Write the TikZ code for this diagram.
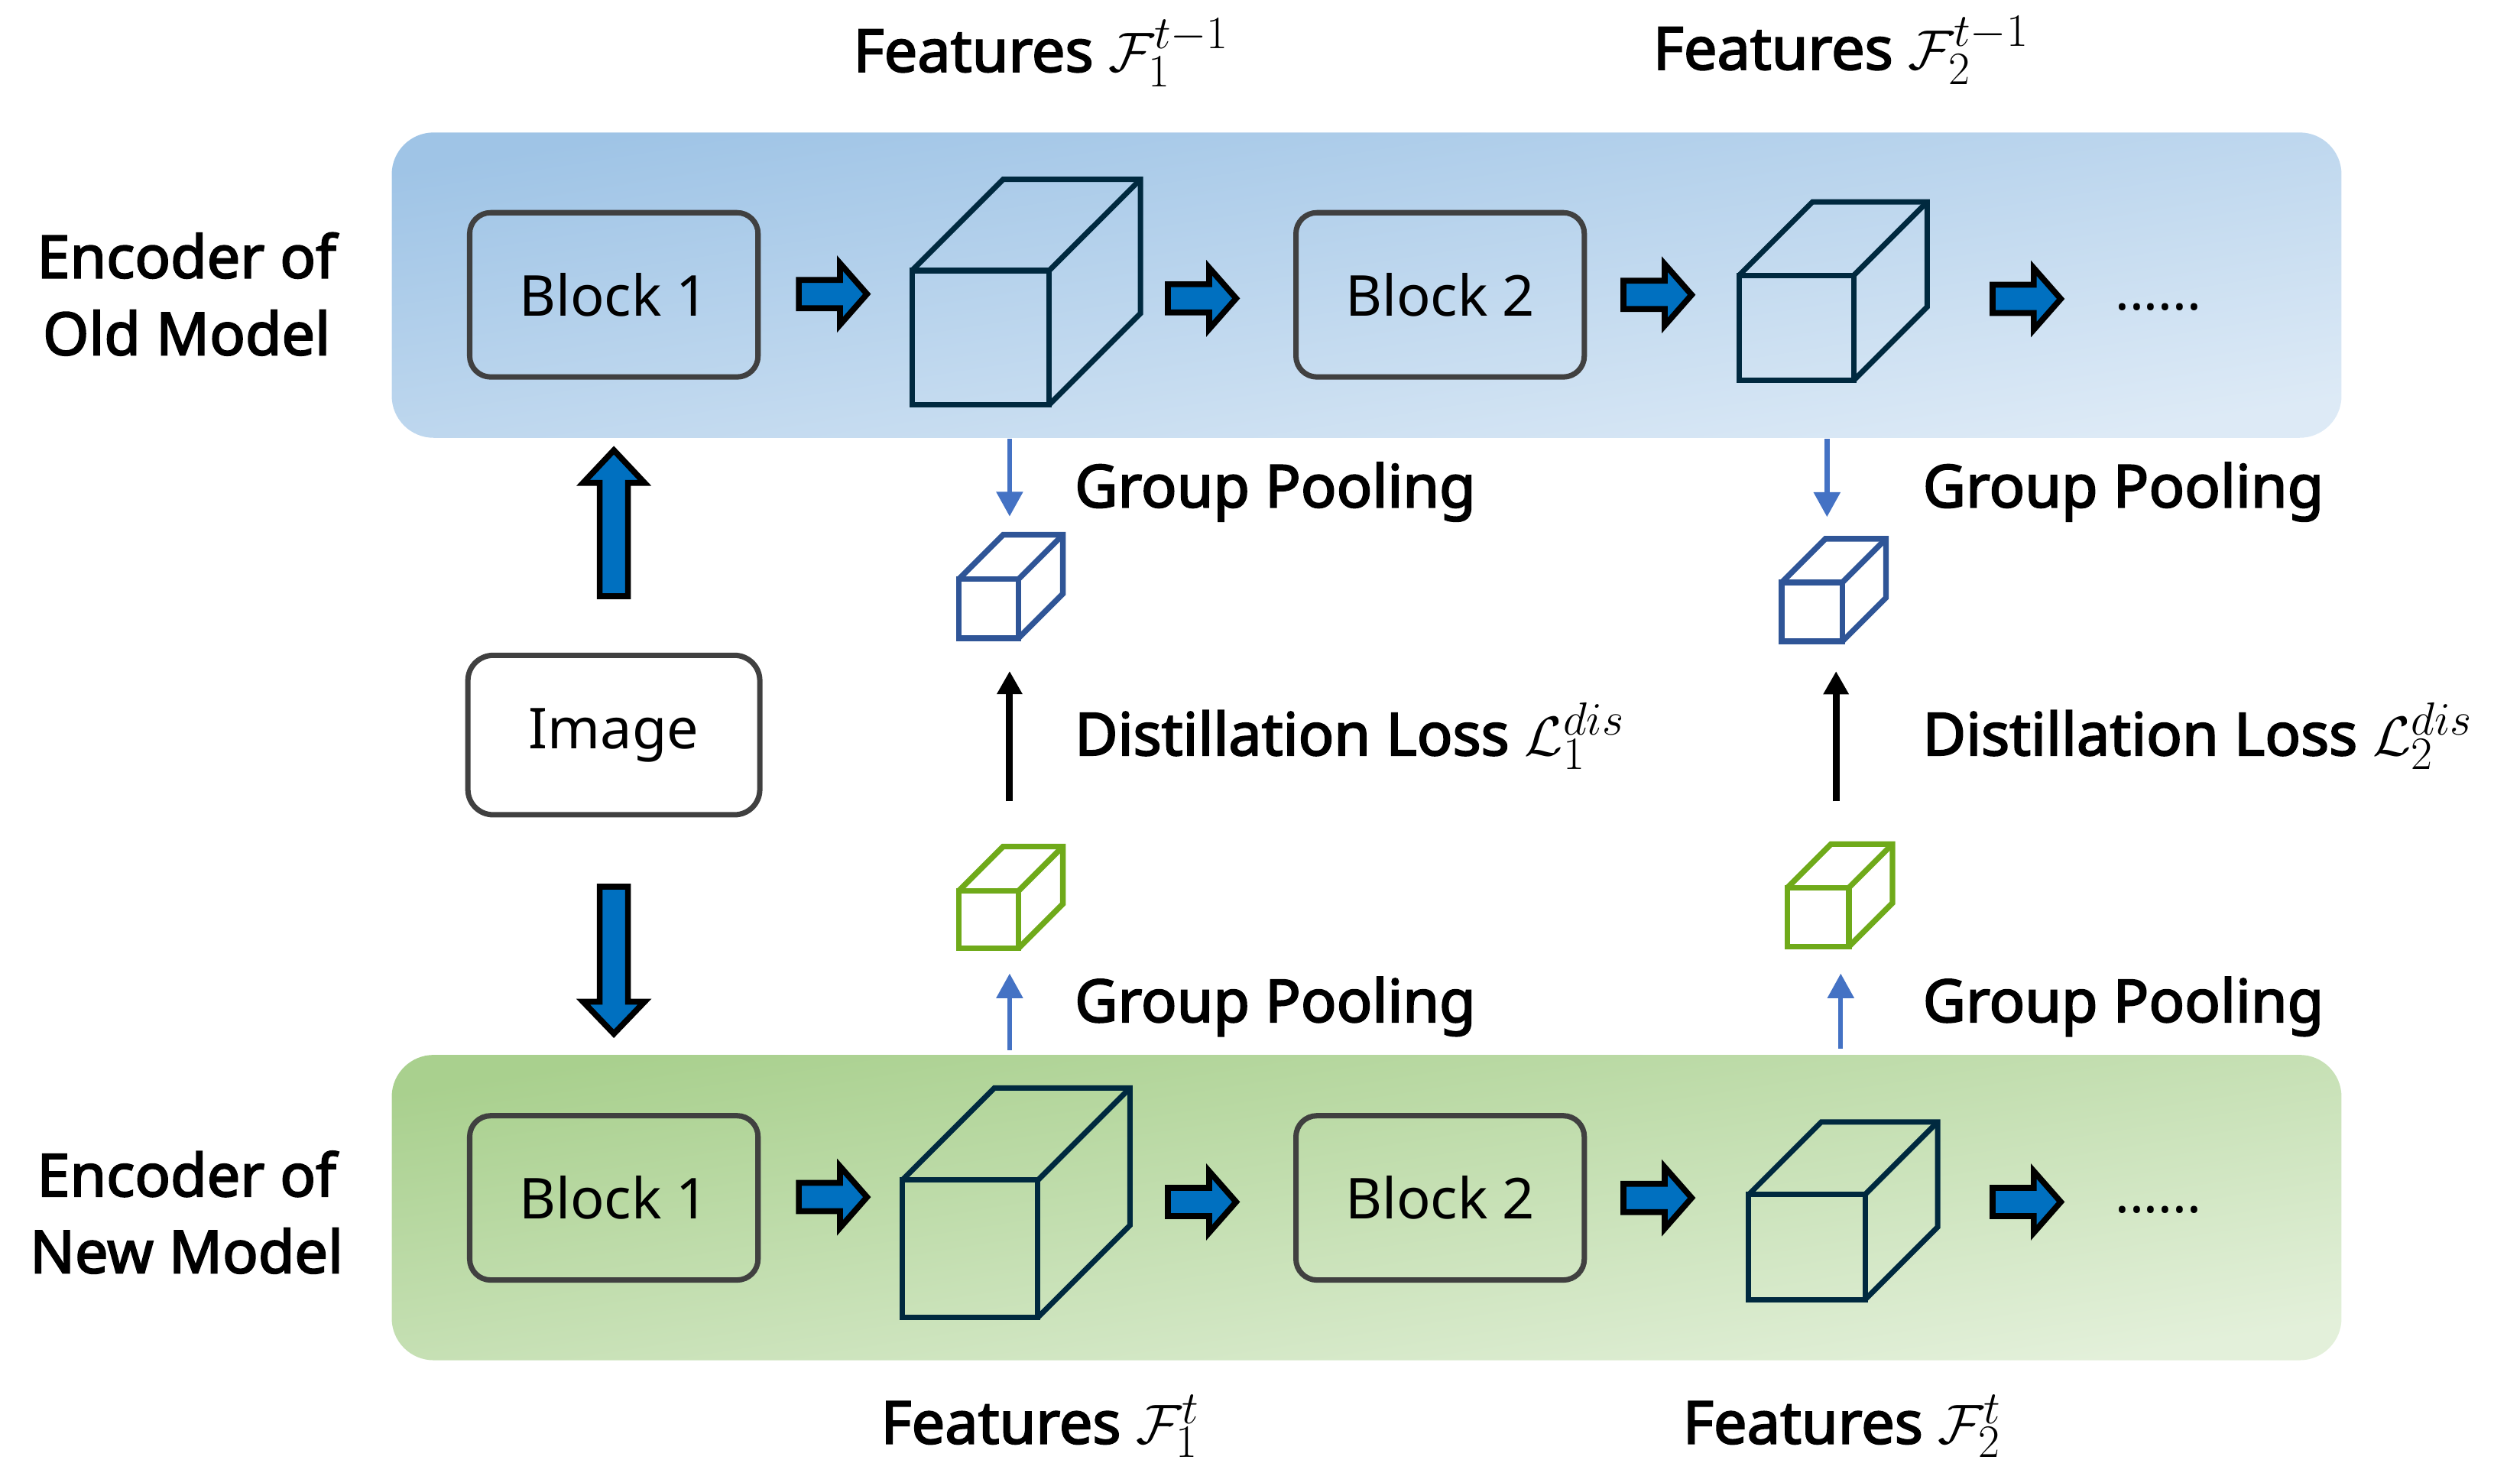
\documentclass[tikz,border=0pt]{standalone}
\usepackage{fontspec}
\setmainfont{Noto Sans}[AutoFakeBold=2.6]
\DeclareMathSizes{22}{22}{18}{13}
\usetikzlibrary{arrows.meta}
\definecolor{oldtop}{HTML}{9FC4E6}
\definecolor{oldbot}{HTML}{DDEAF6}
\definecolor{newtop}{HTML}{A9D08E}
\definecolor{newbot}{HTML}{E3F0DA}
\definecolor{fatblue}{HTML}{0070C0}
\definecolor{thinblue}{HTML}{4472C4}
\definecolor{cubedark}{HTML}{00293F}
\definecolor{cubeblue}{HTML}{2F5597}
\definecolor{cubegreen}{HTML}{6FAA1A}
\definecolor{boxgray}{HTML}{404040}
\newcommand{\pu}{0.021135cm}
% #1 style, #2 x left, #3 y top of front face, #4 width, #5 height, #6 depth
\newcommand{\mycube}[6]{%
  \draw[#1] (#2,#3) rectangle ++(#4,#5);
  \draw[#1] (#2,#3) -- ++(#6,-#6) -- ++(#4,0) -- ++(0,#5) -- ++(-#6,#6);
  \draw[#1] (#2+#4,#3) -- ++(#6,-#6);
}
\tikzset{
  panel/.style={rectangle, rounded corners=15.6pt, inner sep=0pt, outer sep=0pt, draw=none,
    minimum width=1207*\pu, minimum height=189*\pu},
  blockbox/.style={rectangle, rounded corners=7.8pt, draw=boxgray, line width=2pt, inner sep=0pt,
    minimum width=178.5*\pu, minimum height=101.7*\pu, font=\fontsize{21}{25}\selectfont},
  imagebox/.style={blockbox, rounded corners=9.4pt, fill=white, minimum width=180.7*\pu, minimum height=98.7*\pu},
  lbl/.style={font=\bfseries\fontsize{22}{28}\selectfont, inner sep=0pt, anchor=base west},
  enc/.style={font=\bfseries\fontsize{22}{28}\selectfont, inner sep=0pt, anchor=base},
  dots/.style={font=\fontsize{20}{24}\selectfont, inner sep=0pt, anchor=base west},
  fatstyle/.style={draw=black, fill=fatblue, line width=2.2pt, line join=miter},
  fatR/.pic={\path[fatstyle] (-21.5,-8.75) -- (4,-8.75) -- (4,-19) -- (20.7,0) -- (4,19) -- (4,8.75) -- (-21.5,8.75) -- cycle;},
  bigcube/.style={draw=cubedark, line width=2pt},
  smallblue/.style={draw=cubeblue, line width=2.1pt},
  smallgreen/.style={draw=cubegreen, line width=2.1pt},
  thinarrow/.style={draw=thinblue, line width=1.8pt, -{Triangle[width=9.6pt,length=9.2pt]}},
  lossarrow/.style={draw=black, line width=2.6pt, -{Triangle[width=9pt,length=8.6pt]}},
}
\begin{document}
\begin{tikzpicture}[x=\pu, y=-\pu]
\useasboundingbox (0,0) rectangle (1560,913.2);
% panels
\node[panel, top color=oldtop, bottom color=oldbot, shading angle=9] (oldenc) at (846,176.5) {};
\node[panel, top color=newtop, bottom color=newbot, shading angle=9] (newenc) at (846,747.5) {};
% encoder titles
\node[enc] (oldt1) at (115.5,172) {Encoder of};
\node[enc] (oldt2) at (115.5,219.7) {Old Model};
\node[enc] (newt1) at (115.5,740.5) {Encoder of};
\node[enc] (newt2) at (115.5,788) {New Model};
% blocks
\node[blockbox] (ob1) at (380,182.5) {Block 1};
\node[blockbox] (ob2) at (891.5,182.5) {Block 2};
\node[blockbox] (nb1) at (380,741.5) {Block 1};
\node[blockbox] (nb2) at (891.5,741.5) {Block 2};
\node[imagebox] (img) at (380,455) {Image};
% big cubes
\mycube{bigcube}{564.5}{167.5}{85}{83}{56.5}
\mycube{bigcube}{1076.5}{170.5}{71}{65}{45.5}
\mycube{bigcube}{558.5}{730.5}{84}{85}{57}
\mycube{bigcube}{1082.5}{739.5}{72}{65}{45}
% small cubes
\mycube{smallblue}{593.5}{358.5}{37}{36.5}{27.5}
\mycube{smallgreen}{593.5}{551.5}{37}{35.5}{27.5}
\mycube{smallblue}{1103}{360.5}{37.5}{36.5}{27}
\mycube{smallgreen}{1106.5}{549.5}{38}{36.5}{27}
% fat horizontal arrows
\pic at (516,182) {fatR};
\pic at (744.5,184.7) {fatR};
\pic at (1026.5,182.5) {fatR};
\pic at (1255,185) {fatR};
\pic at (516,741) {fatR};
\pic at (744.5,744) {fatR};
\pic at (1026.5,741.5) {fatR};
\pic at (1255,744) {fatR};
\node[dots] (odots) at (1309,192) {......};
\node[dots] (ndots) at (1309,750.6) {......};
% fat vertical arrows
\path[fatstyle] (371.25,369.1) -- (371.25,298.9) -- (361,298.9) -- (380,278.7) -- (399,298.9) -- (388.75,298.9) -- (388.75,369.1) -- cycle;
\path[fatstyle] (371.25,548.9) -- (371.25,620.1) -- (361,620.1) -- (380,639.9) -- (399,620.1) -- (388.75,620.1) -- (388.75,548.9) -- cycle;
% thin arrows
\coordinate (pA1) at (625,271.6);  \coordinate (pA2) at (625,319.7);
\coordinate (lA1) at (625,496);    \coordinate (lA2) at (625,415.4);
\coordinate (qA1) at (625,650);    \coordinate (qA2) at (625,602.6);
\coordinate (pB1) at (1131,271.6); \coordinate (pB2) at (1131,320);
\coordinate (lB1) at (1136.6,496); \coordinate (lB2) at (1136.6,415.5);
\coordinate (qB1) at (1139.5,649); \coordinate (qB2) at (1139.5,602.6);
\draw[thinarrow] (pA1) -- (pA2);
\draw[lossarrow] (lA1) -- (lA2);
\draw[thinarrow] (qA1) -- (qA2);
\draw[thinarrow] (pB1) -- (pB2);
\draw[lossarrow] (lB1) -- (lB2);
\draw[thinarrow] (qB1) -- (qB2);
% labels
\node[lbl] (f1o) at (528,44.4) {Features $\mathcal{F}_1^{t-1}$};
\node[lbl] (f2o) at (1023,43) {Features $\mathcal{F}_2^{t-1}$};
\node[lbl] (f1n) at (545,893.6) {Features $\mathcal{F}_1^{t}$};
\node[lbl] (f2n) at (1041.5,893.6) {Features $\mathcal{F}_2^{t}$};
\node[lbl] (gpA1) at (665,314) {Group Pooling};
\node[lbl] (gpB1) at (1190,314) {Group Pooling};
\node[lbl] (gpA2) at (665,632.6) {Group Pooling};
\node[lbl] (gpB2) at (1190,632.6) {Group Pooling};
\node[lbl] (dlA) at (665,467.5) {Distillation Loss $\mathcal{L}_1^{dis}$};
\node[lbl] (dlB) at (1190,467.5) {Distillation Loss $\mathcal{L}_2^{dis}$};
\end{tikzpicture}
\end{document}
